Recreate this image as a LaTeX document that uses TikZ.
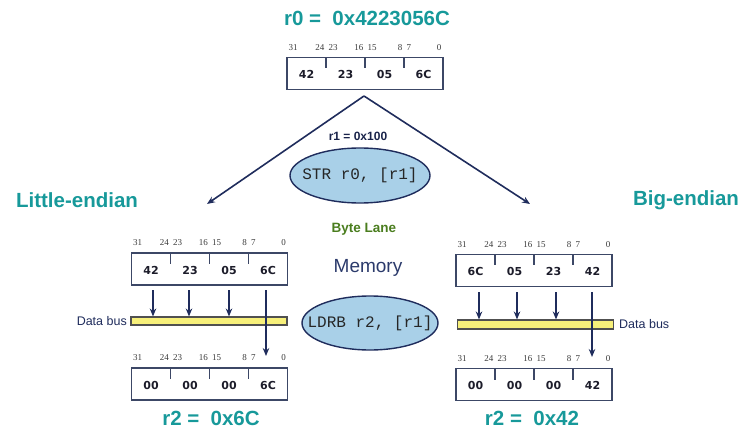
\documentclass[tikz,border=0pt]{standalone}
\usepackage{fontspec}
\setmainfont{Liberation Sans}
\newfontfamily\bitfont{Liberation Serif}
\newfontfamily\codefont{Liberation Mono}
\newfontfamily\valfont{DejaVu Sans}
\usetikzlibrary{arrows.meta,shapes.geometric}

\definecolor{titlecol}{HTML}{17999A}
\definecolor{navy}{HTML}{1F2C5C}
\definecolor{boxcol}{HTML}{3C4766}
\definecolor{valcol}{HTML}{1C1C2A}
\definecolor{bitcol}{HTML}{3A3A3A}
\definecolor{opfill}{HTML}{A9D0E8}
\definecolor{busfill}{HTML}{F7F07A}
\definecolor{busedge}{HTML}{505050}
\definecolor{lanecol}{HTML}{4A7D1E}
\definecolor{memcol}{HTML}{2B3A6B}

\tikzset{
  regbox/.style={draw=boxcol, line width=1.5pt, minimum width=156pt,
    minimum height=32pt, inner sep=0pt, fill=white},
  regtick/.style={draw=boxcol, line width=1.4pt},
  val/.style={font=\valfont\bfseries\fontsize{11}{11}\selectfont, text=valcol, inner sep=0pt},
  bitno/.style={font=\bitfont\fontsize{9}{9}\selectfont, text=bitcol, inner sep=0pt},
  bigtitle/.style={font=\bfseries\fontsize{20.5}{20.5}\selectfont, text=titlecol, inner sep=0pt},
  flow/.style={draw=navy, line width=1.6pt, -{Stealth[length=8pt,width=6.5pt]}},
  busbar/.style={draw=busedge, fill=busfill, line width=1.1pt, minimum width=156pt,
    minimum height=8pt, inner sep=0pt},
  opnode/.style={ellipse, draw=navy, line width=1.4pt, fill=opfill,
    inner xsep=-16pt, inner ysep=0pt,
    font=\codefont\fontsize{16}{16}\selectfont, text=black!85},
  buslabel/.style={font=\fontsize{12.5}{12.5}\selectfont, text=navy, inner sep=0pt},
}

% a 32-bit register: name, centre x, centre y, four byte values (MSB first)
\newcommand\regdraw[7]{%
  \node[regbox] (#1) at (#2,#3) {};
  \begin{scope}[shift={(#2,#3)}]
    \foreach \dx in {-39,0,39} \draw[regtick] (\dx,-16) -- (\dx,-5);
    \node[val] (#1v1) at (-58.5,1) {#4};
    \node[val] (#1v2) at (-19.5,1) {#5};
    \node[val] (#1v3) at (19.5,1) {#6};
    \node[val] (#1v4) at (58.5,1) {#7};
    \node[bitno] (#1b31) at (-72,-26) {31};
    \node[bitno, anchor=east] (#1b24) at (-40.5,-26) {24};
    \node[bitno, anchor=west] (#1b23) at (-36.5,-26) {23};
    \node[bitno, anchor=east] (#1b16) at (-1.5,-26) {16};
    \node[bitno, anchor=west] (#1b15) at (2.5,-26) {15};
    \node[bitno, anchor=east] (#1b8) at (37.5,-26) {8};
    \node[bitno, anchor=west] (#1b7) at (41.5,-26) {7};
    \node[bitno] (#1b0) at (74,-26) {0};
  \end{scope}}

\begin{document}
\begin{tikzpicture}[x=1pt,y=-1pt]
  \useasboundingbox (0,0) rectangle (741,430);

  % source register
  \node[bigtitle] (r0title) at (367,18) {r0 =\ \ 0x4223056C};
  \regdraw{src}{365}{73.5}{42}{23}{05}{6C}

  % store instruction and the two orderings
  \coordinate (apex) at (364,96);
  \coordinate (leftend) at (207,204);
  \coordinate (rightend) at (530,204);
  \draw[flow] (apex) -- (leftend);
  \draw[flow] (apex) -- (rightend);
  \node[font=\bfseries\fontsize{12}{12}\selectfont, text=navy!80!black] (r1lbl) at (358,136) {r1 = 0x100};
  \node[opnode, minimum width=140pt, minimum height=55pt] (str) at (360,175.5) {STR r0, [r1]};

  \node[bigtitle] (little) at (77,200) {Little-endian};
  \node[bigtitle] (big) at (686,200) {Big-endian};

  \node[font=\bfseries\fontsize{13.5}{13.5}\selectfont, text=lanecol] (lane) at (364,229) {Byte Lane};
  \node[font=\fontsize{19}{19}\selectfont, text=memcol] (mem) at (368,268) {Memory};
  \node[opnode, minimum width=136pt, minimum height=54pt] (ldrb) at (370,323) {LDRB r2, [r1]};

  % little-endian memory, bus and result
  \regdraw{lmem}{209.5}{269}{42}{23}{05}{6C}
  \node[busbar] (lbus) at (209,321) {};
  \node[buslabel, anchor=east] (lbuslbl) at (127,321) {Data bus};
  \regdraw{lres}{209.5}{384}{00}{00}{00}{6C}
  \coordinate (la1) at (153,290);
  \coordinate (la2) at (189,290);
  \coordinate (la3) at (229,290);
  \coordinate (la4) at (266,290);
  \coordinate (la4end) at (266,356);
  \draw[flow] (la1) -- (la1 |- lbus.north);
  \draw[flow] (la2) -- (la2 |- lbus.north);
  \draw[flow] (la3) -- (la3 |- lbus.north);
  \draw[flow] (la4) -- (la4end);
  \node[bigtitle] (lr2) at (211,418) {r2 =\ \ 0x6C};

  % big-endian memory, bus and result
  \regdraw{bmem}{534}{270.5}{6C}{05}{23}{42}
  \node[busbar, minimum height=9pt] (bbus) at (535.5,324.5) {};
  \node[buslabel, anchor=west] (bbuslbl) at (619,324.5) {Data bus};
  \regdraw{bres}{534}{384.5}{00}{00}{00}{42}
  \coordinate (ba1) at (479,292);
  \coordinate (ba2) at (517,292);
  \coordinate (ba3) at (556,292);
  \coordinate (ba4) at (592,292);
  \coordinate (ba4end) at (592,357);
  \draw[flow] (ba1) -- (ba1 |- bbus.north);
  \draw[flow] (ba2) -- (ba2 |- bbus.north);
  \draw[flow] (ba3) -- (ba3 |- bbus.north);
  \draw[flow] (ba4) -- (ba4end);
  \node[bigtitle] (br2) at (532,418) {r2 =\ \ 0x42};
\end{tikzpicture}
\end{document}
